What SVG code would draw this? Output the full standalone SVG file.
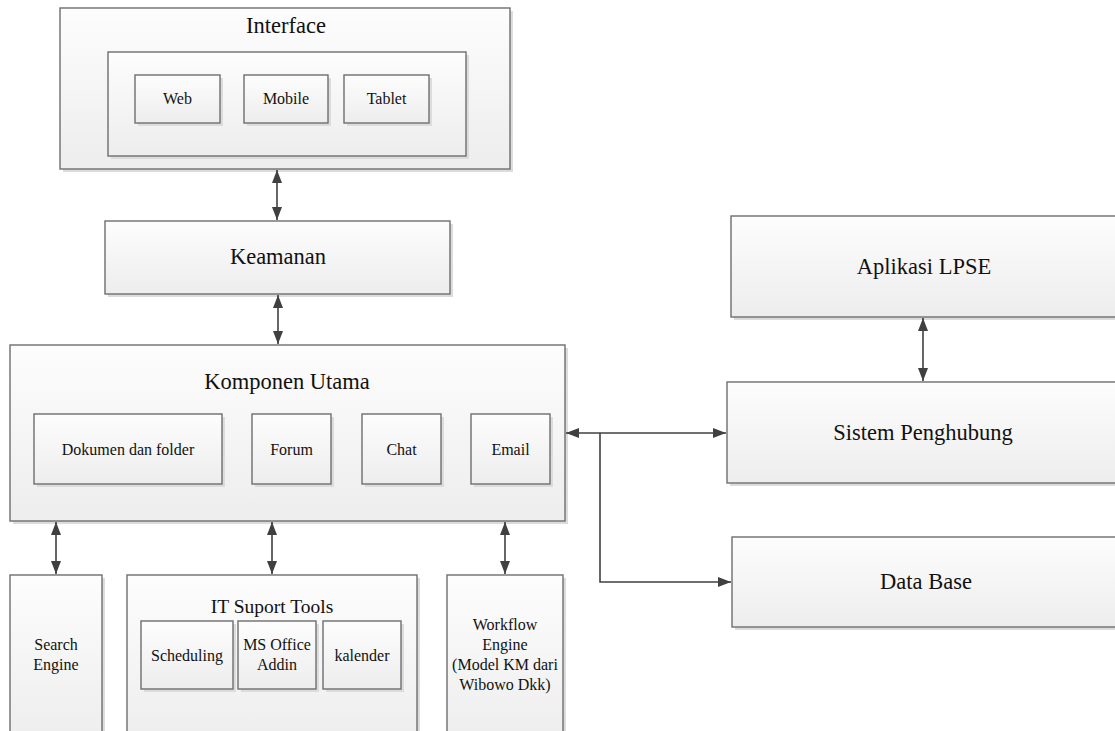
<svg xmlns="http://www.w3.org/2000/svg" width="1115" height="731" viewBox="0 0 1115 731">
<defs>
<linearGradient id="g" x1="0" y1="0" x2="0" y2="1">
<stop offset="0" stop-color="#fdfdfd"/>
<stop offset="1" stop-color="#ededed"/>
</linearGradient>
<marker id="ah" markerUnits="userSpaceOnUse" markerWidth="13" markerHeight="10" refX="13" refY="5" orient="auto-start-reverse">
<path d="M0,0 L13,5 L0,10 z" fill="#404040"/>
</marker>
<style>
.box{fill:url(#g);stroke:#6e6e6e;stroke-width:1.4}
.sh{fill:#dcdcdc}
.t{fill:#111;text-anchor:middle}
.big{font-size:22.5px}
.mid{font-size:19.5px}
.sm{font-size:16px}
.c{fill:none;stroke:#404040;stroke-width:1.6}
</style>
</defs>
<rect width="1115" height="731" fill="#ffffff"/>
<g font-family="Liberation Serif, Tinos, DejaVu Serif, Times New Roman, serif">
<g id="interface">
<rect class="sh" x="63" y="11" width="450" height="161"/>
<rect class="box" x="60" y="8" width="450" height="161"/>
<text class="t big" x="286" y="33">Interface</text>
<rect class="sh" x="111" y="55" width="358" height="104"/>
<rect class="box" x="108" y="52" width="358" height="104"/>
</g>
<g id="web">
<rect class="sh" x="138" y="78" width="85" height="48"/>
<rect class="box" x="135" y="75" width="85" height="48"/>
<text class="t sm" x="177.5" y="104">Web</text>
</g>
<g id="mobile">
<rect class="sh" x="247" y="78" width="84" height="48"/>
<rect class="box" x="244" y="75" width="84" height="48"/>
<text class="t sm" x="286" y="104">Mobile</text>
</g>
<g id="tablet">
<rect class="sh" x="347" y="78" width="85" height="48"/>
<rect class="box" x="344" y="75" width="85" height="48"/>
<text class="t sm" x="386.5" y="104">Tablet</text>
</g>

<g id="keamanan">
<rect class="sh" x="108" y="224" width="345" height="73"/>
<rect class="box" x="105" y="221" width="345" height="73"/>
<text class="t big" x="278" y="264">Keamanan</text>
</g>

<g id="komponen">
<rect class="sh" x="13" y="348" width="555" height="176"/>
<rect class="box" x="10" y="345" width="555" height="176"/>
<text class="t big" x="287" y="389">Komponen Utama</text>
</g>
<g id="dokumen">
<rect class="sh" x="37" y="417" width="188" height="70"/>
<rect class="box" x="34" y="414" width="188" height="70"/>
<text class="t sm" x="128" y="455">Dokumen dan folder</text>
</g>
<g id="forum">
<rect class="sh" x="255" y="417" width="79" height="70"/>
<rect class="box" x="252" y="414" width="79" height="70"/>
<text class="t sm" x="291.5" y="455">Forum</text>
</g>
<g id="chat">
<rect class="sh" x="365" y="417" width="79" height="70"/>
<rect class="box" x="362" y="414" width="79" height="70"/>
<text class="t sm" x="401.5" y="455">Chat</text>
</g>
<g id="email">
<rect class="sh" x="474" y="417" width="79" height="70"/>
<rect class="box" x="471" y="414" width="79" height="70"/>
<text class="t sm" x="510.5" y="455">Email</text>
</g>

<g id="search">
<rect class="sh" x="13" y="578" width="92" height="170"/>
<rect class="box" x="10" y="575" width="92" height="170"/>
<text class="t sm" x="56" y="650">Search</text>
<text class="t sm" x="56" y="670">Engine</text>
</g>
<g id="itsupport">
<rect class="sh" x="130" y="578" width="290" height="170"/>
<rect class="box" x="127" y="575" width="290" height="170"/>
<text class="t mid" x="272" y="613">IT Suport Tools</text>
</g>
<g id="scheduling">
<rect class="sh" x="144" y="624" width="92" height="68"/>
<rect class="box" x="141" y="621" width="92" height="68"/>
<text class="t sm" x="187" y="661">Scheduling</text>
</g>
<g id="msoffice">
<rect class="sh" x="241" y="624" width="78" height="68"/>
<rect class="box" x="238" y="621" width="78" height="68"/>
<text class="t sm" x="277" y="650">MS Office</text>
<text class="t sm" x="277" y="670">Addin</text>
</g>
<g id="kalender">
<rect class="sh" x="326" y="624" width="78" height="68"/>
<rect class="box" x="323" y="621" width="78" height="68"/>
<text class="t sm" x="362" y="661">kalender</text>
</g>
<g id="workflow">
<rect class="sh" x="450" y="578" width="116" height="170"/>
<rect class="box" x="447" y="575" width="116" height="170"/>
<text class="t sm" x="505" y="630">Workflow</text>
<text class="t sm" x="505" y="650">Engine</text>
<text class="t sm" x="505" y="670">(Model KM dari</text>
<text class="t sm" x="505" y="690">Wibowo Dkk)</text>
</g>

<g id="aplikasi">
<rect class="sh" x="734" y="219" width="400" height="101"/>
<rect class="box" x="731" y="216" width="400" height="101"/>
<text class="t big" x="924" y="274">Aplikasi LPSE</text>
</g>
<g id="sistem">
<rect class="sh" x="730" y="385" width="400" height="101"/>
<rect class="box" x="727" y="382" width="400" height="101"/>
<text class="t big" x="923" y="440">Sistem Penghubung</text>
</g>
<g id="database">
<rect class="sh" x="735" y="540" width="400" height="90"/>
<rect class="box" x="732" y="537" width="400" height="90"/>
<text class="t big" x="926" y="589">Data Base</text>
</g>
</g>
<g id="connectors">
<line class="c" x1="277" y1="170" x2="277" y2="220" marker-start="url(#ah)" marker-end="url(#ah)"/>
<line class="c" x1="278" y1="295" x2="278" y2="344" marker-start="url(#ah)" marker-end="url(#ah)"/>
<line class="c" x1="56" y1="522" x2="56" y2="574" marker-start="url(#ah)" marker-end="url(#ah)"/>
<line class="c" x1="272" y1="522" x2="272" y2="574" marker-start="url(#ah)" marker-end="url(#ah)"/>
<line class="c" x1="505" y1="522" x2="505" y2="574" marker-start="url(#ah)" marker-end="url(#ah)"/>
<line class="c" x1="923" y1="318" x2="923" y2="381" marker-start="url(#ah)" marker-end="url(#ah)"/>
<line class="c" x1="566" y1="433" x2="726" y2="433" marker-start="url(#ah)" marker-end="url(#ah)"/>
<polyline class="c" points="600,433 600,582 731,582" marker-end="url(#ah)"/>
</g>
</svg>
